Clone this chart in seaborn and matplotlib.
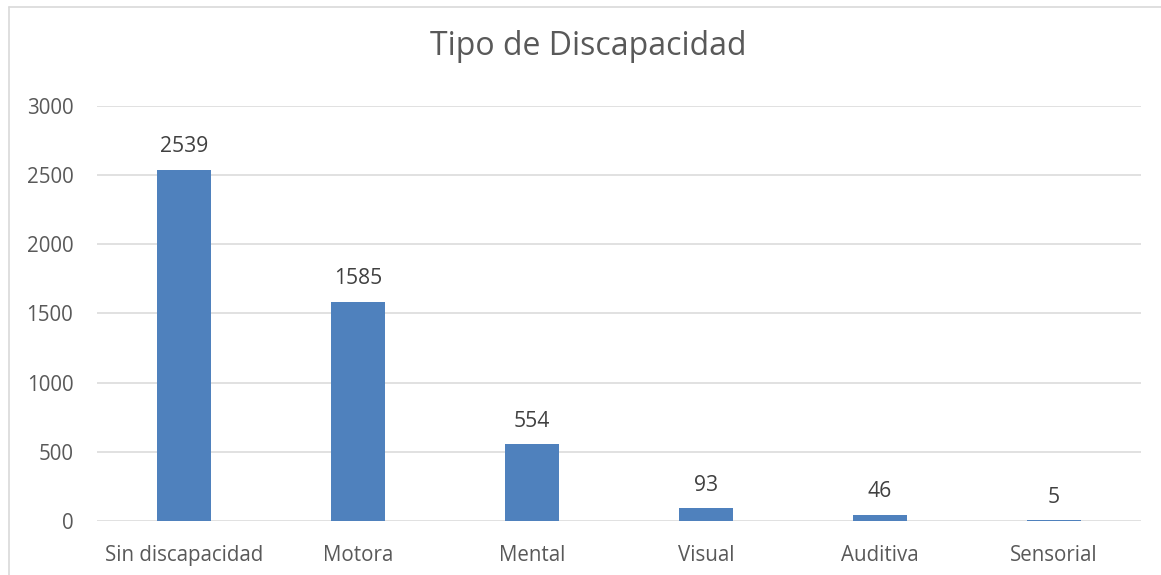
import matplotlib
matplotlib.use("Agg")
import matplotlib.pyplot as plt
import seaborn as sns
import pandas as pd
from matplotlib.lines import Line2D

categorias = ["Sin discapacidad", "Motora", "Mental", "Visual", "Auditiva", "Sensorial"]
valores = [2539, 1585, 554, 93, 46, 5]
yticks = [0, 500, 1000, 1500, 2000, 2500, 3000]

sns.set_theme(style="white")
plt.rcParams["font.family"] = ["Open Sans", "DejaVu Sans"]

df = pd.DataFrame({"tipo": categorias, "n": valores})

fig = plt.figure(figsize=(11.61, 5.75), dpi=100)
ax = fig.add_axes([0.0835, 0.0939, 0.8993, 0.7218])

sns.barplot(data=df, x="tipo", y="n", color="#4F81BD", saturation=1,
            width=0.31, linewidth=0, ax=ax)

ax.set_ylim(0, 3000)
ax.set_yticks(yticks)
ax.set_xlim(-0.5, len(categorias) - 0.5)
for y in yticks:
    ax.axhline(y, color="#D9D9D9", lw=1.1, zorder=0)

for s in ax.spines.values():
    s.set_visible(False)
ax.set_xlabel("")
ax.set_ylabel("")
ax.tick_params(axis="y", length=0, pad=17, labelsize=14.8, labelcolor="#595959")
ax.tick_params(axis="x", length=0, pad=17, labelsize=14.8, labelcolor="#595959")

ax.bar_label(ax.containers[0], labels=[str(v) for v in valores], padding=9,
             fontsize=15.2, color="#404040")

fig.text(0.507, 0.904, "Tipo de Discapacidad", ha="center", va="baseline",
         fontsize=23, color="#595959")

# borde del gráfico
fig.add_artist(Line2D([9 / 1161, 9 / 1161], [0, 1 - 7 / 575], color="#D9D9D9", lw=1.2))
fig.add_artist(Line2D([9 / 1161, 1], [1 - 7 / 575, 1 - 7 / 575], color="#D9D9D9", lw=1.2))

fig.savefig("out.png", dpi=100)
